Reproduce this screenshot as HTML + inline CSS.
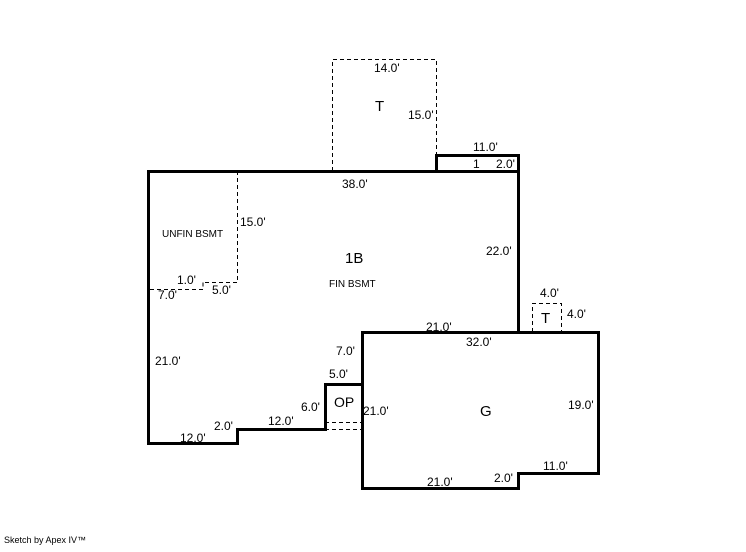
<!DOCTYPE html>
<html><head><style>body{margin:0;background:#fff}svg text{font-family:"Liberation Sans",sans-serif;fill:#000}</style></head><body>
<svg width="746" height="547" xmlns="http://www.w3.org/2000/svg">
<g fill="none" stroke="#000" stroke-width="1" stroke-dasharray="4,3">
<path d="M332.5,171 V59.5 H436.5 V155"/>
<path d="M532.5,332 V303.5 H561.5 V332"/>
<path d="M237.5,171 V282.5 H203 M203,282.5 V289.5 H148"/>
<path d="M325,422.5 H362 M325,429.5 H362"/>
</g>
<g fill="none" stroke="#000" stroke-width="3" stroke-linejoin="miter">
<path d="M148.5,171.5 H518.5 V332.5 H362.5 V384.5 H325.5 V429.5 H237.5 V443.5 H148.5 Z"/>
<path d="M436.5,171 V155.5 H518.5 V171"/>
<path d="M362.5,332.5 H598.5 V473.5 H518.5 V488.5 H362.5 Z"/>
</g>
<g font-size="12">
<text x="374" y="72">14.0'</text>
<text x="375" y="111" font-size="15">T</text>
<text x="408" y="119">15.0'</text>
<text x="473" y="151">11.0'</text>
<text x="473" y="168">1</text>
<text x="496" y="168">2.0'</text>
<text x="342" y="188">38.0'</text>
<text x="240" y="226">15.0'</text>
<text x="162" y="237" font-size="10">UNFIN BSMT</text>
<text x="345" y="263" font-size="15">1B</text>
<text x="486" y="255">22.0'</text>
<text x="329" y="287" font-size="10">FIN BSMT</text>
<text x="177" y="284">1.0'</text>
<text x="158" y="299">7.0'</text>
<text x="212" y="294">5.0'</text>
<text x="540" y="297">4.0'</text>
<text x="541" y="323" font-size="15">T</text>
<text x="567" y="318">4.0'</text>
<text x="426" y="331">21.0'</text>
<text x="466" y="346">32.0'</text>
<text x="336" y="355">7.0'</text>
<text x="155" y="365">21.0'</text>
<text x="329" y="378">5.0'</text>
<text x="334" y="407" font-size="14">OP</text>
<text x="301" y="411">6.0'</text>
<text x="363" y="415">21.0'</text>
<text x="480" y="416" font-size="15">G</text>
<text x="568" y="409">19.0'</text>
<text x="268" y="425">12.0'</text>
<text x="214" y="430">2.0'</text>
<text x="180" y="442">12.0'</text>
<text x="543" y="470">11.0'</text>
<text x="494" y="482">2.0'</text>
<text x="427" y="486">21.0'</text>
<text x="4" y="543" font-size="9">Sketch by Apex IV™</text>
</g>
</svg>
</body></html>
